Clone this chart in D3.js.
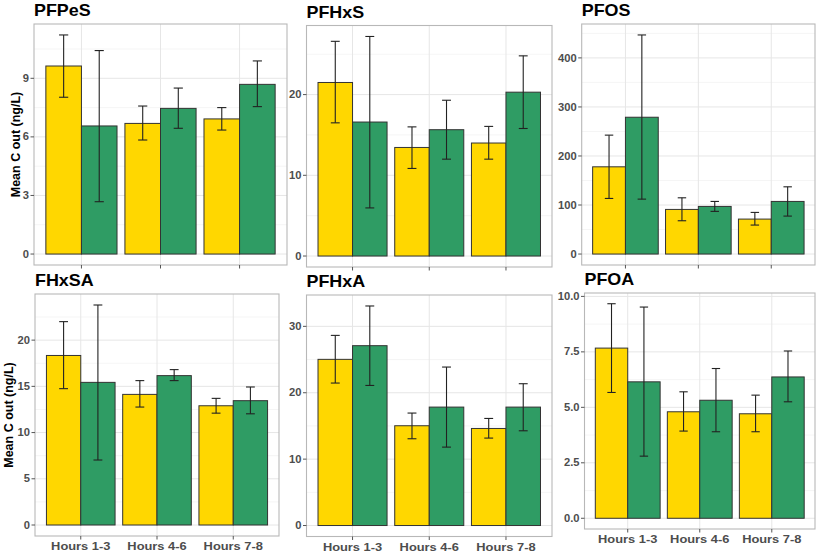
<!DOCTYPE html>
<html>
<head>
<meta charset="utf-8">
<script src="https://cdn.jsdelivr.net/npm/d3@7"></script>
<style>
  html, body { margin: 0; padding: 0; background: #fff; }
  svg { display: block; font-family: "Liberation Sans", Arial, sans-serif; }
</style>
</head>
<body>
<svg id="chart" width="817" height="552"></svg>
<script>
// ---------- data ----------
const compounds = ["PFPeS", "PFHxS", "PFOS", "FHxSA", "PFHxA", "PFOA"];
const hours = ["Hours 1-3", "Hours 4-6", "Hours 7-8"];

const yellowMean = [[9.63, 6.69, 6.92], [21.5, 13.45, 14.0], [177.9, 91, 71.3], [18.34, 14.13, 12.9], [25.03, 15.03, 14.62], [7.67, 4.80, 4.71]];
const yellowLow  = [[8.03, 5.84, 6.35], [16.5, 10.85, 12.0], [113.4, 67.9, 59.1], [14.75, 12.76, 12.1], [21.46, 13.07, 13.17], [5.67, 3.93, 3.90]];
const yellowHigh = [[11.22, 7.58, 7.50], [26.6, 16.0, 16.06], [242.5, 114.7, 84.9], [22.0, 15.62, 13.7], [28.64, 16.94, 16.13], [9.67, 5.70, 5.55]];

const greenMean = [[6.56, 7.46, 8.69], [16.6, 15.65, 20.3], [279, 97.1, 107.3], [15.43, 16.16, 13.45], [27.09, 17.84, 17.84], [6.15, 5.32, 6.37]];
const greenLow  = [[2.68, 6.44, 7.55], [5.96, 12.0, 15.8], [112, 87, 77.4], [7.03, 15.62, 12.03], [21.1, 11.81, 14.27], [2.80, 3.90, 5.25]];
const greenHigh = [[10.42, 8.50, 9.89], [27.2, 19.3, 24.8], [446.8, 107.3, 137.1], [23.8, 16.81, 14.93], [33.07, 23.87, 21.36], [9.52, 6.75, 7.54]];

const yTicks = [[0, 3, 6, 9], [0, 10, 20], [0, 100, 200, 300, 400], [0, 5, 10, 15, 20], [0, 10, 20, 30], [0, 2.5, 5, 7.5, 10]];
const tickFormat = ["d", "d", "d", "d", "d", ".1f"];
const yTitle = "Mean C out (ng/L)";

// ---------- layout ----------
const panels = [
  { l: 34,    t: 24,   r: 287, b: 265,   yt: 20 },
  { l: 306.5, t: 25.5, r: 552, b: 267 },
  { l: 581.7, t: 24,   r: 815, b: 265 },
  { l: 35,    t: 294,  r: 279, b: 536,   yt: 12.5 },
  { l: 306.5, t: 295,  r: 552, b: 536.5 },
  { l: 584.5, t: 293,  r: 815, b: 529 }
];
const colYellow = "#FFD700", colGreen = "#2f9c64";
const textStretch = 1.12;

const svg = d3.select("#chart");

function stretchedText(g, x, y, txt, size, anchor, fill, weight) {
  return g.append("text")
    .attr("transform", `translate(${x},${y}) scale(${textStretch},1)`)
    .attr("text-anchor", anchor)
    .attr("font-size", size)
    .attr("font-weight", weight || "bold")
    .attr("fill", fill)
    .text(txt);
}

compounds.forEach((name, i) => {
  const p = panels[i];
  const g = svg.append("g");
  const maxV = d3.max([...yellowHigh[i], ...greenHigh[i], ...yellowMean[i], ...greenMean[i]]);
  const y = d3.scaleLinear().domain([-0.05 * maxV, 1.05 * maxV]).range([p.b, p.t]);
  const x = d3.scaleLinear().domain([-0.6, hours.length - 1 + 0.6]).range([p.l, p.r]);
  const unit = x(1) - x(0);

  // panel background
  g.append("rect").attr("x", p.l).attr("y", p.t).attr("width", p.r - p.l).attr("height", p.b - p.t).attr("fill", "#fff");

  // minor gridlines
  const tk = yTicks[i];
  const step = tk[1] - tk[0];
  const minors = [];
  for (let v = tk[0] - step / 2; v <= y.domain()[1]; v += step) {
    if (v >= y.domain()[0]) minors.push(v);
  }
  g.selectAll(".minor").data(minors).join("line")
    .attr("x1", p.l).attr("x2", p.r)
    .attr("y1", d => y(d)).attr("y2", d => y(d))
    .attr("stroke", "#f3f3f3").attr("stroke-width", 0.8);
  // major gridlines
  g.selectAll(".major").data(tk).join("line")
    .attr("x1", p.l).attr("x2", p.r)
    .attr("y1", d => y(d)).attr("y2", d => y(d))
    .attr("stroke", "#e6e6e6").attr("stroke-width", 1);
  g.selectAll(".vmajor").data(hours).join("line")
    .attr("x1", (d, j) => x(j)).attr("x2", (d, j) => x(j))
    .attr("y1", p.t).attr("y2", p.b)
    .attr("stroke", "#e6e6e6").attr("stroke-width", 1);

  // bars
  const series = [
    { mean: yellowMean[i], low: yellowLow[i], high: yellowHigh[i], color: colYellow, off: -0.225 },
    { mean: greenMean[i], low: greenLow[i], high: greenHigh[i], color: colGreen, off: 0.225 }
  ];
  series.forEach(s => {
    g.selectAll(null).data(hours).join("rect")
      .attr("x", (d, j) => x(j + s.off - 0.225))
      .attr("width", unit * 0.45)
      .attr("y", (d, j) => y(s.mean[j]))
      .attr("height", (d, j) => y(0) - y(s.mean[j]))
      .attr("fill", s.color)
      .attr("stroke", "#333").attr("stroke-width", 1);
  });
  series.forEach(s => {
    const cap = unit * 0.058;
    hours.forEach((h, j) => {
      const cx = x(j + s.off);
      const eg = g.append("g").attr("stroke", "#222").attr("stroke-width", 1.1).attr("fill", "none");
      eg.append("line").attr("x1", cx).attr("x2", cx).attr("y1", y(s.low[j])).attr("y2", y(s.high[j]));
      eg.append("line").attr("x1", cx - cap).attr("x2", cx + cap).attr("y1", y(s.low[j])).attr("y2", y(s.low[j]));
      eg.append("line").attr("x1", cx - cap).attr("x2", cx + cap).attr("y1", y(s.high[j])).attr("y2", y(s.high[j]));
    });
  });

  // panel border
  g.append("rect").attr("x", p.l).attr("y", p.t).attr("width", p.r - p.l).attr("height", p.b - p.t)
    .attr("fill", "none").attr("stroke", "#b8b8b8").attr("stroke-width", 1.1);

  // y axis ticks + labels
  const fmt = d3.format(tickFormat[i]);
  tk.forEach(v => {
    g.append("line").attr("x1", p.l - 3.5).attr("x2", p.l).attr("y1", y(v)).attr("y2", y(v))
      .attr("stroke", "#555").attr("stroke-width", 1);
    stretchedText(g, p.l - 5, y(v) + 3.6, fmt(v), 10, "end", "#4d4d4d");
  });

  // x ticks
  hours.forEach((h, j) => {
    g.append("line").attr("x1", x(j)).attr("x2", x(j)).attr("y1", p.b).attr("y2", p.b + 3.5)
      .attr("stroke", "#555").attr("stroke-width", 1);
  });
  if (i >= 3) {
    hours.forEach((h, j) => {
      stretchedText(g, x(j), p.b + 14, h, 11.5, "middle", "#4d4d4d");
    });
  }

  // title
  stretchedText(g, p.l, p.t - 8, name, 16, "start", "#000");

  // y axis title (left column)
  if (p.yt !== undefined) {
    g.append("text")
      .attr("transform", `translate(${p.yt},${(p.t + p.b) / 2}) rotate(-90)`)
      .attr("text-anchor", "middle")
      .attr("font-size", 12.5)
      .attr("font-weight", "bold")
      .attr("fill", "#000")
      .text(yTitle);
  }
});
</script>
</body>
</html>
